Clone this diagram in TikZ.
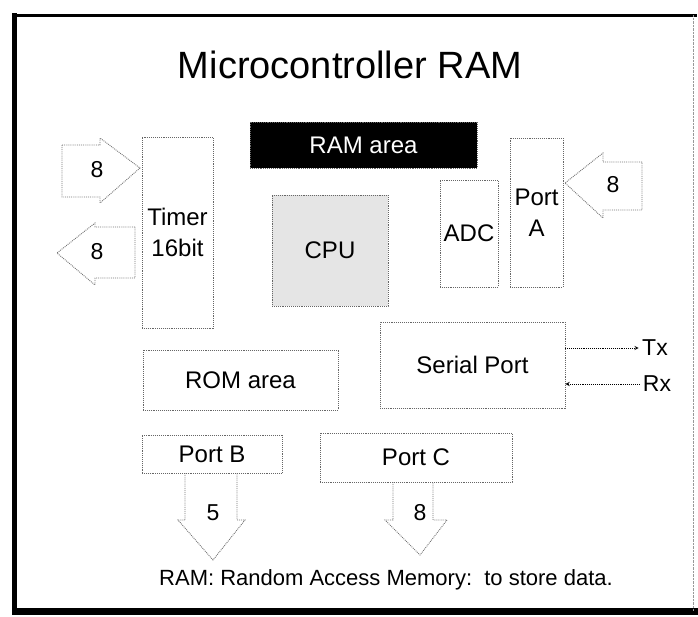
\documentclass[tikz,border=0pt]{standalone}
\usepackage{fontspec}
\setmainfont{Liberation Sans}
\begin{document}
\begin{tikzpicture}[x=1pt,y=-1pt,
        unit/.style={draw=black!60, densely dotted, line width=0.9pt, inner sep=1pt, align=center, font=\fontsize{24}{31}\selectfont},
        fatarrow/.style={draw=black!55, densely dotted, line width=0.9pt},
        lbl/.style={font=\fontsize{23}{26}\selectfont}]
        \useasboundingbox (0,0) rectangle (698,616);
    % Frame
        \draw[line width=3pt] (14,15) -- (697,15);
        \draw[line width=5pt] (14,13) -- (14,614);
        \draw[line width=7pt] (12,611) -- (698,611);
        \draw[black!40, densely dotted] (693,15) -- (693,611);
    % Title
        \node[font=\fontsize{38}{44}\selectfont] (title) at (350,65) {Microcontroller RAM};
    % Units
        \node[unit, fill=black, text=white, minimum width=227pt, minimum height=46pt] (ram) at (363.5,145) {RAM area};
        \node[unit, minimum width=71pt, minimum height=191pt] (timer) at (177.5,232.5) {Timer\\16bit};
        \node[unit, fill=black!10, minimum width=116pt, minimum height=111pt] (cpu) at (330,250.5) {CPU};
        \node[unit, minimum width=58pt, minimum height=107pt] (adc) at (469,233.5) {ADC};
        \node[unit, minimum width=53pt, minimum height=149pt] (porta) at (536.5,212.5) {Port\\A};
        \node[unit, minimum width=185pt, minimum height=86pt] (serial) at (472.5,365) {Serial Port};
        \node[unit, minimum width=195pt, minimum height=60pt] (rom) at (240.5,380) {ROM area};
        \node[unit, minimum width=140pt, minimum height=38pt] (portb) at (212,454) {Port B};
        \node[unit, minimum width=192pt, minimum height=49pt] (portc) at (416,457.5) {Port C};
    % Block arrows
        \draw[fatarrow] (62,145) -- (100,145) -- (100,138) -- (140,168) -- (100,203) -- (100,197) -- (62,197) -- cycle;
        \draw[fatarrow] (135,227) -- (95,227) -- (95,223) -- (57,253) -- (95,285) -- (95,278) -- (135,278) -- cycle;
        \draw[fatarrow] (642,162) -- (603,162) -- (603,153) -- (565,183) -- (603,218) -- (603,210) -- (642,210) -- cycle;
        \draw[fatarrow] (185,473) -- (185,520) -- (178,520) -- (213,560) -- (245,520) -- (237,520) -- (237,473);
        \draw[fatarrow] (393,482) -- (393,520) -- (385,520) -- (420,555) -- (447,520) -- (433,520) -- (433,482);
    % Widths
        \node[lbl] (w1) at (97,170) {8};
        \node[lbl] (w2) at (97,252) {8};
        \node[lbl] (w3) at (613,185) {8};
        \node[lbl] (w4) at (213,513) {5};
        \node[lbl] (w5) at (420,513) {8};
    % Serial lines
        \node[lbl] (tx) at (655,348) {Tx};
        \node[lbl] (rx) at (657,384) {Rx};
        \draw[-stealth, densely dotted, line width=0.9pt] (serial.east |- tx) -- (tx.west);
        \draw[-stealth, densely dotted, line width=0.9pt] (rx.west) -- (serial.east |- rx);
    % Note
        \node[font=\fontsize{22}{26}\selectfont] (note) at (386,580) {RAM: Random Access Memory:\ \ to store data.};
\end{tikzpicture}
\end{document}
